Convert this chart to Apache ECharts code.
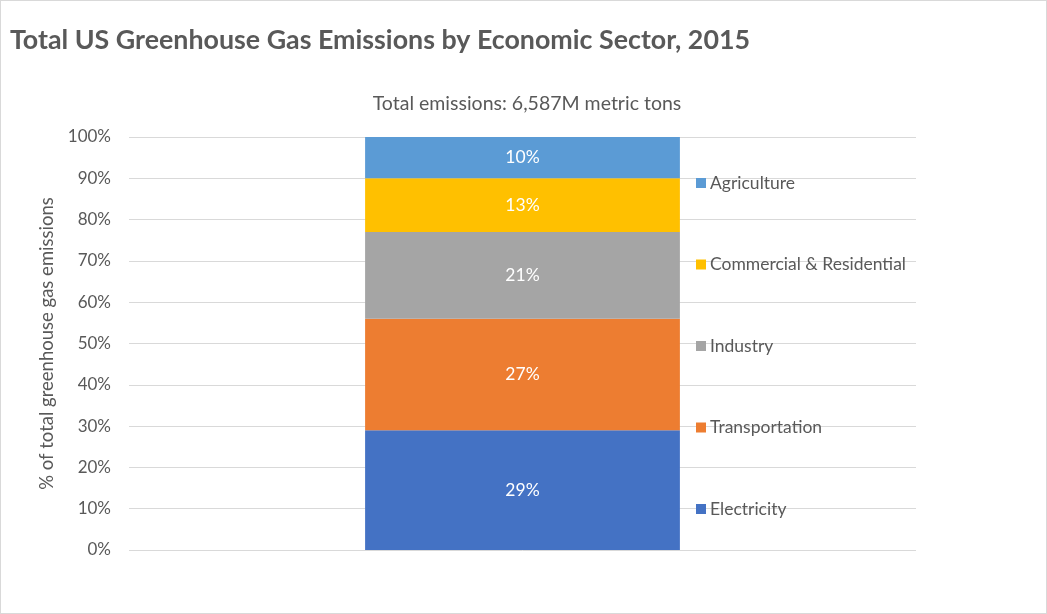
<!DOCTYPE html>
<html>
<head>
<meta charset="utf-8">
<script src="https://cdn.jsdelivr.net/npm/echarts@6/dist/echarts.min.js"></script>
<style>
  html, body { margin: 0; padding: 0; background: #fff; }
  #frame { width: 1047px; height: 614px; box-sizing: border-box; border: 1px solid #d9d9d9; }
  #chart { width: 1045px; height: 612px; }
</style>
</head>
<body>
<div id="frame"><div id="chart"></div></div>
<script>
  const categories = ['2015'];
  const sectors = ['Electricity', 'Transportation', 'Industry', 'Commercial & Residential', 'Agriculture'];
  const shares = [[29], [27], [21], [13], [10]];
  const colors = ['#4472c4', '#ed7d31', '#a5a5a5', '#ffc000', '#5b9bd5'];
  const yTicks = { min: 0, max: 100, interval: 10 };

  const textColor = '#595959';
  const gridColor = '#d9d9d9';
  const font = 'Lato';

  const chart = echarts.init(document.getElementById('chart'));

  chart.setOption({
    animation: false,
    color: colors,
    textStyle: { fontFamily: font },
    title: [
      {
        text: 'Total US Greenhouse Gas Emissions by Economic Sector, 2015',
        left: 4,
        top: 21,
        textStyle: { color: textColor, fontSize: 26.8, fontWeight: 'bold', fontFamily: font },
      },
      {
        text: 'Total emissions: 6,587M metric tons',
        left: 521,
        top: 88,
        textAlign: 'center',
        textStyle: { color: textColor, fontSize: 19.5, fontWeight: 'normal', fontFamily: font },
      },
    ],
    legend: {
      orient: 'vertical',
      left: 690,
      top: 167,
      itemWidth: 10,
      itemHeight: 10,
      itemGap: 61.5,
      icon: 'rect',
      data: sectors.slice().reverse(),
      textStyle: { color: textColor, fontSize: 17.5, lineHeight: 20, fontFamily: font, padding: [0, 0, 0, -1] },
    },
    grid: { left: 128, right: 130, top: 136, bottom: 63 },
    xAxis: {
      type: 'category',
      data: categories,
      axisLine: { show: false },
      axisTick: { show: false },
      axisLabel: { show: false },
    },
    yAxis: {
      type: 'value',
      min: yTicks.min,
      max: yTicks.max,
      interval: yTicks.interval,
      name: '% of total greenhouse gas emissions',
      nameLocation: 'middle',
      nameGap: 69,
      nameTextStyle: { color: textColor, fontSize: 18.5, fontFamily: font },
      axisLine: { show: false },
      axisTick: { show: false },
      axisLabel: { color: textColor, fontSize: 17, margin: 18, formatter: '{value}%' },
      splitLine: { lineStyle: { color: gridColor, width: 1 } },
    },
    series: sectors.map((name, i) => ({
      name,
      type: 'bar',
      stack: 'total',
      barWidth: '40%',
      data: shares[i],
      label: {
        show: true,
        position: 'inside',
        color: '#fff',
        fontSize: 17.5,
        fontFamily: font,
        formatter: '{c}%',
      },
    })),
  });
</script>
</body>
</html>
